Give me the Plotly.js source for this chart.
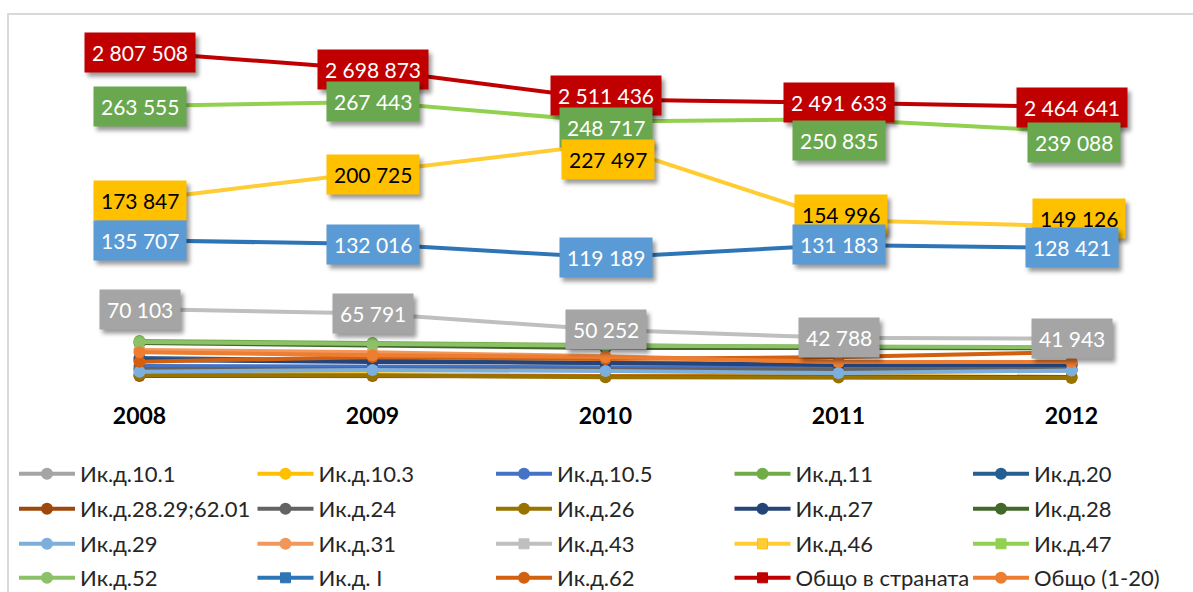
<!DOCTYPE html>
<html><head><meta charset="utf-8">
<script src="https://cdn.plot.ly/plotly-3.0.1.min.js"></script>
<style>
html,body{margin:0;padding:0;background:#fff}
#chart{width:1193px;height:592px}
#chart .annotation rect.bg{filter:drop-shadow(3px 4px 2px rgba(0,0,0,0.4));}
</style>
</head><body><div id="chart"></div>
<script>
// ---- data ----
const years = [2008, 2009, 2010, 2011, 2012];
const yearLabels = ['2008', '2009', '2010', '2011', '2012'];

const ikd10_1   = [12500, 12000, 11500, 11000, 11200];
const ikd10_3   = [8200, 8000, 6300, 6300, 5300];
const ikd10_5   = [15800, 14900, 13900, 13900, 13500];
const ikd11     = [39600, 37700, 35800, 33900, 33000];
const ikd20     = [23400, 20600, 18700, 17700, 17500];
const ikd28_29  = [6300, 6200, 5500, 5500, 5400];
const ikd24     = [13000, 12800, 12500, 12300, 12000];
const ikd26     = [7200, 7000, 5000, 4800, 4400];
const ikd27     = [21500, 19600, 18700, 16800, 16600];
const ikd28     = [37700, 35800, 33000, 33000, 32500];
const ikd29     = [10400, 12000, 11000, 9100, 11500];
const ikd31     = [31000, 29000, 25000, 19600, 19600];
const ikd43     = [70103, 65791, 50252, 42788, 41943];
const ikd46     = [173847, 200725, 227497, 154996, 149126];
const ikd47     = [263555, 267443, 248717, 250835, 239088];
const ikd52     = [38600, 36500, 35000, 34500, 33800];
const ikdI      = [135707, 132016, 119189, 131183, 128421];
const ikd62     = [19900, 24400, 22500, 24400, 29000];
const totalBG   = [2807508, 2698873, 2511436, 2491633, 2464641];
const total1_20 = [29000, 26000, 24400, 19600, 19600];

const seriesNames = ['Ик.д.10.1', 'Ик.д.10.3', 'Ик.д.10.5', 'Ик.д.11', 'Ик.д.20',
  'Ик.д.28.29;62.01', 'Ик.д.24', 'Ик.д.26', 'Ик.д.27', 'Ик.д.28',
  'Ик.д.29', 'Ик.д.31', 'Ик.д.43', 'Ик.д.46', 'Ик.д.47',
  'Ик.д.52', 'Ик.д. I', 'Ик.д.62', 'Общо в страната', 'Общо (1-20)'];
const seriesValues = [ikd10_1, ikd10_3, ikd10_5, ikd11, ikd20,
  ikd28_29, ikd24, ikd26, ikd27, ikd28,
  ikd29, ikd31, ikd43, ikd46, ikd47,
  ikd52, ikdI, ikd62, totalBG, total1_20];

// ---- styles ----
const lineColors = ['#A5A5A5', '#FFC000', '#4472C4', '#70AD47', '#255E91',
  '#9E480E', '#636363', '#997300', '#264478', '#43682B',
  '#7CAFDD', '#F1975A', '#BFBFBF', '#FFCD33', '#92D050',
  '#8CC168', '#2E75B6', '#D2600F', '#C00000', '#ED7D31'];
const squareMarker = {12: true, 13: true, 14: true, 16: true, 18: true};
const secondaryIdx = 18;
const labelStyle = {
  18: {bg: '#C00000', fg: '#FFFFFF'},
  14: {bg: '#6AA84F', fg: '#FFFFFF'},
  13: {bg: '#FFC000', fg: '#000000'},
  16: {bg: '#5B9BD5', fg: '#FFFFFF'},
  12: {bg: '#A5A5A5', fg: '#FFFFFF'}
};
// manual label nudges (px), like hand-moved labels in the original
const labelNudge = {
  18: {dx: [0, 0, 0, 0, 0], dy: [0, 0, 4, 0, 0]},
  14: {dx: [0, 0, 0, 0, 2], dy: [0, 0, -6, -21, -11]},
  13: {dx: [0, 0, 2, 2, 7], dy: [0, -3, -16, 5, 8]},
  16: {dx: [0, 0, 0, 0, 0], dy: [0, 0, 0, 0, 0]},
  12: {dx: [0, 0, 0, 0, 0], dy: [0, 0, 0, 0, 0]}
};

const fmt = v => String(v).replace(/\B(?=(\d{3})+(?!\d))/g, ' ');
const legendIds = ['legend', 'legend2', 'legend3', 'legend4'];

const traces = seriesValues.map((vals, i) => ({
  type: 'scatter', mode: 'lines+markers',
  x: years, y: vals, name: seriesNames[i],
  yaxis: i === secondaryIdx ? 'y2' : 'y',
  legend: legendIds[Math.floor(i / 5)],
  legendwidth: (i % 5 === 4) ? 125 : undefined,
  line: {color: lineColors[i], width: 4},
  marker: {
    color: lineColors[i], size: squareMarker[i] ? 10 : 12,
    symbol: squareMarker[i] ? 'square' : 'circle',
    line: {width: squareMarker[i] ? 1 : 0, color: i === 13 ? '#FFC000' : lineColors[i]}
  },
  hoverinfo: 'skip'
}));

const annotations = [];
const labelled = [18, 14, 13, 16, 12];
labelled.forEach(i => {
  seriesValues[i].forEach((v, k) => {
    annotations.push({
      x: years[k], y: v, xref: 'x', yref: i === secondaryIdx ? 'y2' : 'y',
      text: fmt(v), showarrow: false,
      font: {family: 'Lato', size: 21, color: labelStyle[i].fg},
      bgcolor: labelStyle[i].bg, borderpad: 7,
      xshift: labelNudge[i].dx[k], yshift: labelNudge[i].dy[k]
    });
  });
});

const M = {l: 23, r: 5, t: 20, b: 207, autoexpand: false};
const plotH = 592 - M.t - M.b;
const plotW = 1193 - M.l - M.r;
const py = px => (592 - M.b - px) / plotH;   // pixel row -> paper y
const pxX = px => (px - M.l) / plotW;       // pixel col -> paper x

const legendRows = [474, 509, 544, 578];
const legendBase = {
  orientation: 'h', xanchor: 'left', yanchor: 'middle', x: pxX(14),
  entrywidth: 167.5, entrywidthmode: 'pixels', itemwidth: 56,
  font: {family: 'Lato', size: 22, color: '#262626'},
  bgcolor: 'rgba(0,0,0,0)', borderwidth: 0, traceorder: 'normal',
  itemclick: false, itemdoubleclick: false
};
const layout = {
  width: 1193, height: 592, margin: M,
  paper_bgcolor: '#FFFFFF', plot_bgcolor: '#FFFFFF',
  showlegend: true,
  xaxis: {type: 'linear', showgrid: false, zeroline: false, showline: false,
    ticks: '', range: [2007.5, 2012.5], fixedrange: true, ticklabelstandoff: 15,
    tickmode: 'array', tickvals: years, ticktext: yearLabels,
    tickfont: {family: 'Lato', size: 23, color: '#000000', weight: 'bold'}},
  yaxis: {visible: false, range: [-2287, 345531], fixedrange: true},
  yaxis2: {visible: false, overlaying: 'y', side: 'right', range: [731448, 3007009], fixedrange: true},
  annotations: annotations,
  shapes: [{type: 'rect', xref: 'paper', yref: 'paper', layer: 'below',
    x0: pxX(8), x1: pxX(1215), y0: py(640), y1: py(14),
    line: {color: '#D9D9D9', width: 2}, fillcolor: 'rgba(0,0,0,0)'}]
};
legendIds.forEach((id, r) => {
  layout[id] = Object.assign({}, legendBase, {y: py(legendRows[r])});
});

Plotly.newPlot('chart', traces, layout, {staticPlot: true, displayModeBar: false});
</script>
</body></html>
